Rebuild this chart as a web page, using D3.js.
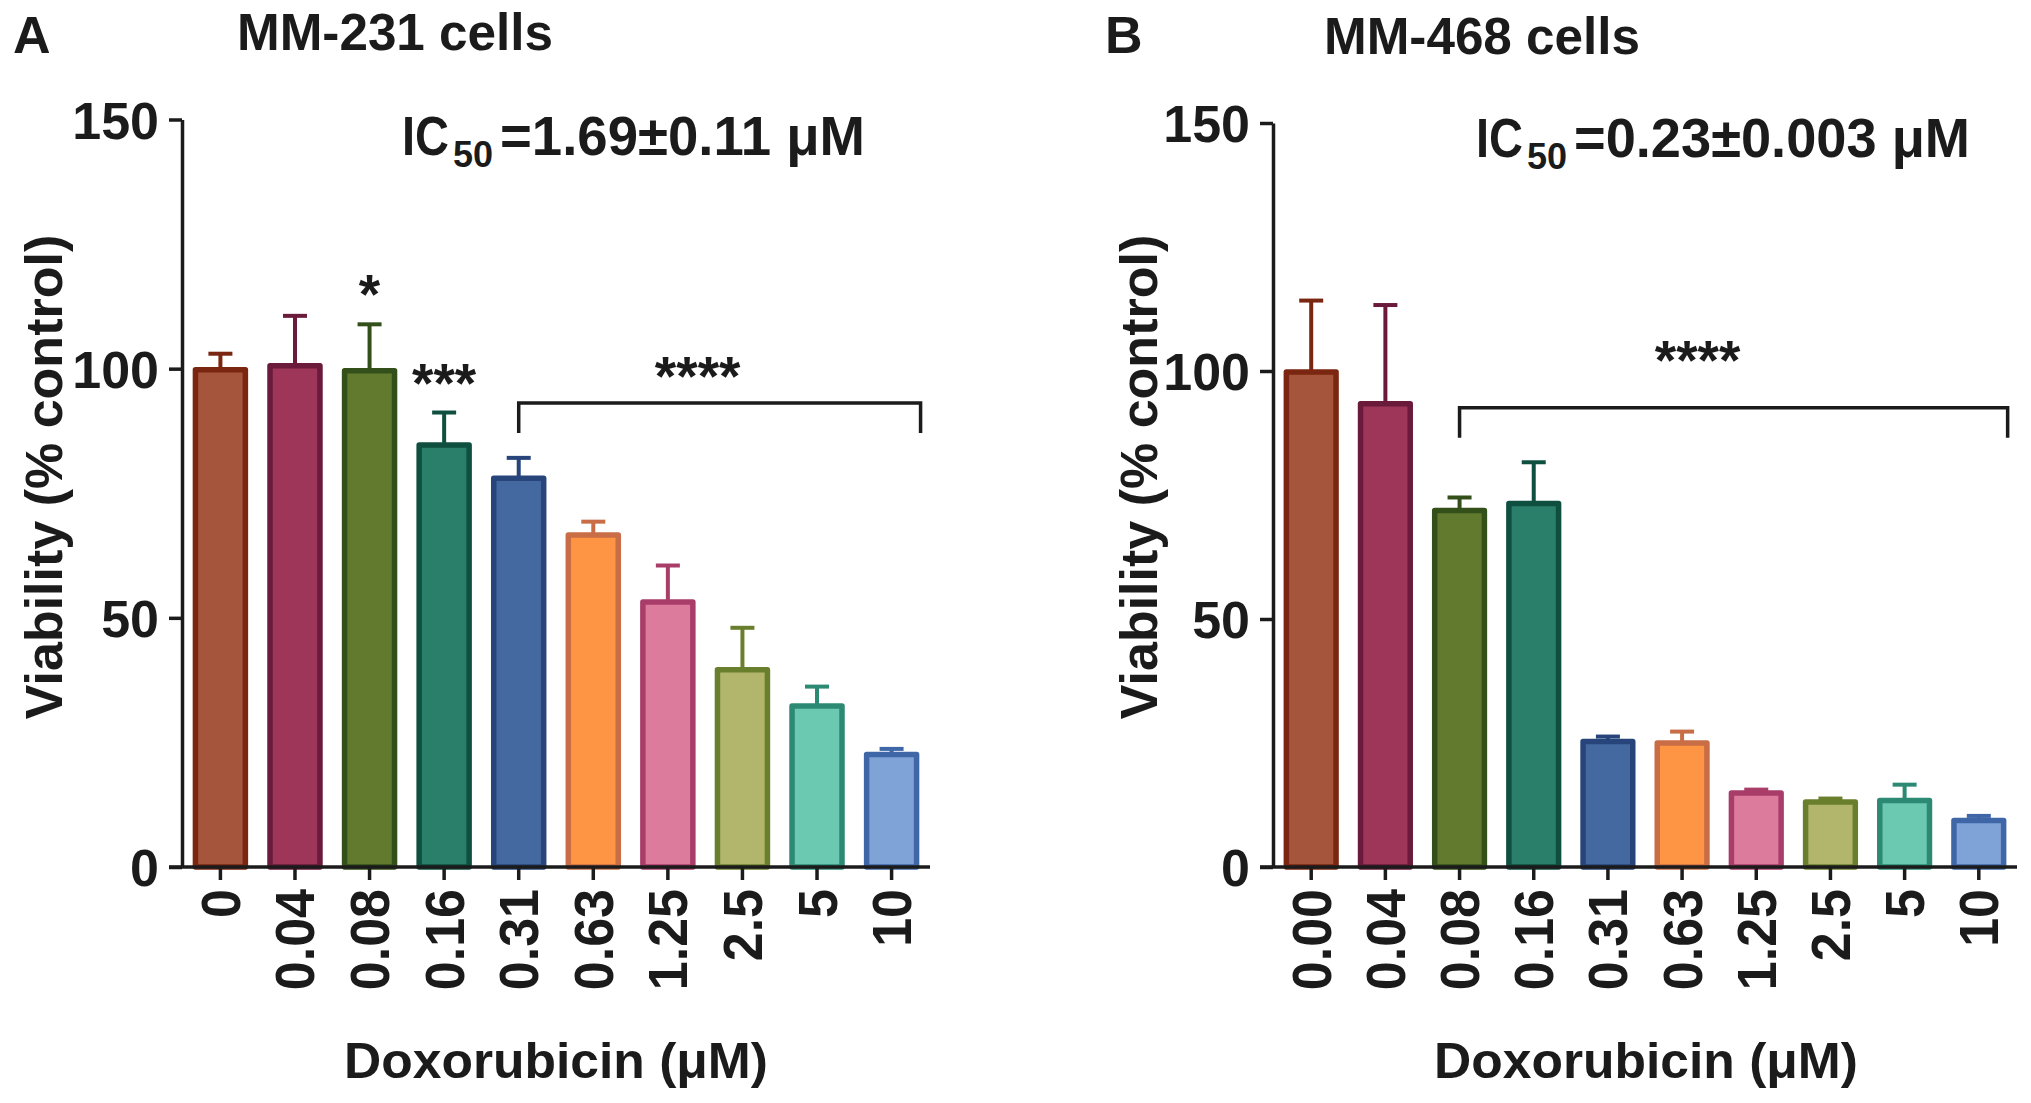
<!DOCTYPE html>
<html>
<head>
<meta charset="utf-8">
<script src="https://cdn.jsdelivr.net/npm/d3@7"></script>
<style>
  html, body { margin: 0; padding: 0; background: #ffffff; }
  svg { display: block; }
  text { font-family: "Liberation Sans", Arial, Helvetica, sans-serif; font-weight: bold; fill: #1b1b1b; }
</style>
</head>
<body>
<svg id="chart" width="2031" height="1103"></svg>
<script>
// ---------------- data ----------------
const categoriesA = ["0", "0.04", "0.08", "0.16", "0.31", "0.63", "1.25", "2.5", "5", "10"];
const categoriesB = ["0.00", "0.04", "0.08", "0.16", "0.31", "0.63", "1.25", "2.5", "5", "10"];
const meansA = [99.8, 100.6, 99.6, 84.7, 78.0, 66.6, 53.2, 39.6, 32.3, 22.6];
const errorsA = [3.2, 10.0, 9.3, 6.5, 4.1, 2.7, 7.3, 8.4, 3.9, 1.1];
const meansB = [99.8, 93.4, 71.9, 73.3, 25.3, 25.0, 14.9, 13.1, 13.4, 9.4];
const errorsB = [14.4, 19.9, 2.6, 8.3, 1.0, 2.3, 0.7, 0.7, 3.2, 0.9];
const yTicks = [0, 50, 100, 150];
const fillColors = ["#A4553C", "#9D3659", "#617A2E", "#2A7F6B", "#4468A0", "#FE9545", "#DD7B9D", "#B1B66C", "#6CC9B1", "#80A3D7"];
const strokeColors = ["#7A2610", "#6A1A3A", "#34501A", "#0F4F3F", "#27457A", "#C86D45", "#A93D69", "#6A7F2E", "#2C8A74", "#3F67A8"];
const starsA = [{ cat: "0.08", label: "*" }, { cat: "0.16", label: "***" }];
const starsB = [];
const bracketA = { from: "0.31", to: "10", level: 93.1, label: "****", labelLevel: 101.0 };
const bracketB = { from: "0.08", to: "10", level: 92.6, label: "****", labelLevel: 104.6 };

const svg = d3.select("#chart");
const FONT = 52;

function drawPanel(cfg) {
  const g = svg.append("g");
  const x = d3.scaleBand().domain(cfg.cats).range([cfg.x0, cfg.x1]).paddingInner(0.33).paddingOuter(0.18);
  const y = d3.scaleLinear().domain([0, 150]).range([867, cfg.yTop]);
  const rows = cfg.cats.map((c, i) => ({ c, i, m: cfg.means[i], e: cfg.errs[i] }));

  // bars
  g.selectAll("rect.bar").data(rows).join("rect")
    .attr("class", "bar")
    .attr("x", d => x(d.c)).attr("width", x.bandwidth())
    .attr("y", d => y(d.m)).attr("height", d => y(0) - y(d.m))
    .attr("fill", d => fillColors[d.i]).attr("stroke", d => strokeColors[d.i])
    .attr("stroke-width", 5.5).attr("stroke-linejoin", "round");

  // error bars (upper only)
  const eb = g.selectAll("g.err").data(rows).join("g").attr("class", "err")
    .attr("stroke", d => strokeColors[d.i]).attr("stroke-width", 4);
  eb.append("line")
    .attr("x1", d => x(d.c) + x.bandwidth() / 2).attr("x2", d => x(d.c) + x.bandwidth() / 2)
    .attr("y1", d => y(d.m) - 2).attr("y2", d => y(d.m + d.e));
  eb.append("line")
    .attr("x1", d => x(d.c) + x.bandwidth() / 2 - 12).attr("x2", d => x(d.c) + x.bandwidth() / 2 + 12)
    .attr("y1", d => y(d.m + d.e)).attr("y2", d => y(d.m + d.e));

  // y axis
  const ya = g.append("g").attr("transform", `translate(${cfg.x0},0)`)
    .call(d3.axisLeft(y).tickValues(yTicks).tickSize(13).tickSizeOuter(0).tickPadding(10));
  ya.selectAll("path, line").attr("stroke", "#1b1b1b").attr("stroke-width", 3.5);
  ya.selectAll("text").attr("font-size", FONT).attr("fill", "#1b1b1b").attr("dy", "0.36em")
    .attr("font-family", '"Liberation Sans", Arial, sans-serif').attr("font-weight", "bold");

  // x axis
  const xa = g.append("g").attr("transform", `translate(0,${y(0)})`)
    .call(d3.axisBottom(x).tickSize(13).tickSizeOuter(0));
  xa.select("path.domain").attr("d", `M${cfg.x0 - 13},0H${cfg.x1}`);
  xa.selectAll("path, line").attr("stroke", "#1b1b1b").attr("stroke-width", 3.5);
  xa.selectAll("text")
    .attr("font-size", FONT).attr("fill", "#1b1b1b")
    .attr("font-family", '"Liberation Sans", Arial, sans-serif').attr("font-weight", "bold")
    .attr("x", 0).attr("y", 0).attr("dy", "0.35em").attr("text-anchor", "end")
    .attr("transform", "translate(0,22) rotate(-90) scale(1,1.07)");

  // y title
  g.append("text").attr("text-anchor", "middle").attr("font-size", FONT)
    .attr("transform", `translate(${cfg.yTitleX},477) rotate(-90)`)
    .text("Viability (% control)");

  // x title
  g.append("text").attr("text-anchor", "middle").attr("font-size", 50)
    .attr("x", cfg.xTitleX).attr("y", 1078)
    .attr("textLength", 424).attr("lengthAdjust", "spacingAndGlyphs")
    .text("Doxorubicin (\u03BCM)");

  // panel letter & title
  g.append("text").attr("x", cfg.letterX).attr("y", 53).attr("font-size", FONT).text(cfg.letter);
  g.append("text").attr("x", cfg.titleX).attr("y", cfg.titleY).attr("font-size", FONT)
    .attr("textLength", 316).attr("lengthAdjust", "spacingAndGlyphs").text(cfg.title);

  // IC50: "IC" (condensed via vertical stretch), subscript "50", value text
  g.append("text").attr("font-size", 47)
    .attr("transform", `translate(${cfg.icX},${cfg.icY}) scale(1,1.19)`)
    .text("IC");
  g.append("text").attr("x", cfg.icX + 51).attr("y", cfg.icY + 12).attr("font-size", 36)
    .text("50");
  g.append("text").attr("x", cfg.icX + 98).attr("y", cfg.icY).attr("font-size", 56)
    .attr("textLength", cfg.icLen).attr("lengthAdjust", "spacingAndGlyphs").text(cfg.icText);

  // stars over single bars
  g.selectAll("text.star").data(cfg.stars).join("text").attr("class", "star")
    .attr("text-anchor", "middle").attr("font-size", 55)
    .attr("x", d => x(d.cat) + x.bandwidth() / 2)
    .attr("y", d => { const i = cfg.cats.indexOf(d.cat); return y(cfg.means[i] + cfg.errs[i]) - 11; })
    .text(d => d.label);

  // bracket
  const b = cfg.bracket;
  const bx1 = x(b.from) + x.bandwidth() / 2;
  const bx2 = x(b.to) + x.bandwidth() + 4;
  const by = y(b.level);
  g.append("path")
    .attr("d", `M${bx1},${by + 30}V${by}H${bx2}V${by + 30}`)
    .attr("fill", "none").attr("stroke", "#1b1b1b").attr("stroke-width", 3.5);
  g.append("text").attr("text-anchor", "middle").attr("font-size", 55)
    .attr("x", (bx1 + bx2) / 2 + cfg.starShift).attr("y", y(b.labelLevel) + 31)
    .text(b.label);
}

drawPanel({
  cats: categoriesA, means: meansA, errs: errorsA,
  x0: 182, x1: 930, yTop: 119.5,
  yTitleX: 62, xTitleX: 556,
  letter: "A", letterX: 13, title: "MM-231 cells", titleX: 237, titleY: 50,
  icX: 402, icY: 155, icText: "=1.69\u00B10.11 \u03BCM", icLen: 365,
  stars: starsA, bracket: bracketA, starShift: -22
});

drawPanel({
  cats: categoriesB, means: meansB, errs: errorsB,
  x0: 1273, x1: 2017, yTop: 123,
  yTitleX: 1157, xTitleX: 1646,
  letter: "B", letterX: 1105, title: "MM-468 cells", titleX: 1324, titleY: 54,
  icX: 1476, icY: 157, icText: "=0.23\u00B10.003 \u03BCM", icLen: 396,
  stars: starsB, bracket: bracketB, starShift: -36
});
</script>
</body>
</html>
